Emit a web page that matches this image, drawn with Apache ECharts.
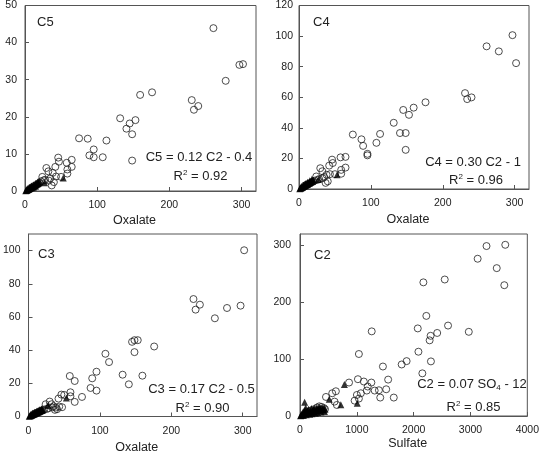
<!DOCTYPE html>
<html>
<head>
<meta charset="utf-8">
<script src="https://cdn.jsdelivr.net/npm/echarts@6/dist/echarts.min.js"></script>
<style>html,body{margin:0;padding:0;background:#fff;}#main{width:542px;height:455px;}</style>
</head>
<body>
<div id="main"></div>
<script>
// ---- Data ----
// Open circles: oxalate (C2) values shared by the C5, C4, C3 panels
var oxalateCircles = [261, 278, 297, 302, 231, 234, 240, 176, 159.5, 131.8, 153, 145, 140.5, 148.4, 148.4, 112.8, 107.7, 74.9, 86.9, 89.2, 95.2, 95.2, 64.7, 57.8, 64.7, 58.7, 58.7, 46, 47, 42, 29.6, 32.4, 38.4, 43, 50, 24, 40, 37, 33, 28, 22, 18, 15, 12, 10, 8, 20, 26, 35];
var c5Circles = [43.9, 29.7, 34.0, 34.2, 24.5, 21.9, 22.9, 26.6, 25.9, 19.6, 19.1, 18.2, 16.8, 15.3, 8.2, 13.6, 9.1, 14.2, 14.1, 9.6, 11.2, 9.1, 8.4, 7.6, 6.5, 5.8, 4.7, 9.0, 7.9, 6.5, 6.2, 5.3, 4.9, 3.9, 3.8, 3.8, 2.4, 1.5, 2.8, 3.0, 2.6, 2.0, 1.6, 1.3, 1.0, 0.8, 2.2, 2.9, 3.4];
var c4Circles = [93.3, 90, 100.6, 82.3, 62.7, 58.8, 59.9, 56.7, 53.2, 43.3, 48.5, 51.7, 36.6, 36.6, 25.6, 36, 30.2, 35.6, 32.5, 28.2, 23, 22, 21, 20.7, 14, 12.5, 10, 19.2, 17, 15.3, 13.6, 11.6, 9.3, 9.7, 9.7, 8.2, 5, 4, 7, 6.5, 5.5, 4.5, 3.8, 3.2, 2.6, 2.2, 5, 6, 7.8];
var c3Circles = [59.2, 65.4, 66.8, 100.2, 70.8, 64.4, 67.4, 42.2, 24.6, 25.2, 46, 45, 19.4, 46, 38.8, 32.8, 37.8, 11.8, 17.2, 23, 27, 15.6, 21.4, 24.4, 8.8, 14.6, 12.2, 13.2, 5.6, 10.8, 9, 7.4, 5.4, 6, 13, 7.4, 4.4, 4, 5.5, 5, 4.2, 3.5, 3, 2.4, 2, 1.6, 3.8, 4.6, 6.2];

// Filled triangles: oxalate values and C5, C4, C3
var oxalateTriangles = [1, 2, 3, 4, 5, 6, 7, 8, 9, 10, 11, 12, 13, 14, 15, 16, 17, 18, 19, 20, 27, 53, 2.5, 4.5, 6.5, 8.5, 11.5, 14.5, 3, 6, 9, 12, 15, 18];
var c5Triangles = [0.1, 0.2, 0.3, 0.4, 0.5, 0.6, 0.8, 0.9, 1.0, 1.1, 1.2, 1.3, 1.5, 1.6, 1.7, 1.8, 1.9, 2.0, 2.2, 2.5, 2.2, 3.5, 0.2, 0.4, 0.7, 0.9, 1.0, 1.3, 0.6, 0.9, 1.3, 1.6, 2.0, 2.4];
var c4Triangles = [0.2, 0.5, 0.8, 1.0, 1.3, 1.6, 1.9, 2.2, 2.5, 2.8, 3.0, 3.3, 3.6, 3.9, 4.2, 4.5, 4.8, 5.0, 5.3, 5.8, 6.2, 9.3, 0.6, 1.2, 1.8, 2.3, 3.1, 4.0, 1.5, 2.4, 3.4, 4.4, 5.4, 6.4];
var c3Triangles = [0.2, 0.4, 0.6, 0.8, 1.0, 1.2, 1.4, 1.6, 1.8, 2.0, 2.2, 2.4, 2.6, 2.8, 3.0, 3.2, 3.4, 3.6, 3.8, 4.0, 6.6, 11.2, 0.5, 0.9, 1.3, 1.7, 2.3, 2.9, 1.2, 1.9, 2.6, 3.3, 4.0, 4.6];

// C2 vs sulfate panel
var sulfateCircles = [3612, 3282, 3126, 3462, 3595, 2547, 2171, 2223, 2072, 2605, 2970, 2414, 2298, 2281, 2084, 2304, 2153, 1876, 1789, 1262, 1036, 1459, 1551, 1517, 1412, 1650, 1314, 1389, 1256, 1192, 1175, 1123, 1019, 863, 1001, 1071, 961, 1036, 567, 631, 608, 457, 648, 300, 340, 380, 420, 250, 200, 360, 440, 160, 280];
var c2Circles = [301, 298.8, 276.5, 260, 230, 240, 235, 176, 154, 159, 148, 146, 141, 133, 113, 96, 75, 96.5, 90.6, 148.8, 109, 87, 64, 47, 32.4, 32.4, 44.7, 45.3, 58.8, 51.8, 44.7, 60.6, 64.7, 58.8, 37, 40, 27, 30.6, 40, 43.5, 25.3, 33.5, 19.4, 15, 17, 16, 14, 12, 10, 11, 12, 8, 9];
var sulfateTriangles = [781, 515, 718, 1007, 81, 20, 40, 60, 80, 100, 120, 140, 160, 180, 200, 220, 240, 260, 280, 300, 320, 340, 360, 380, 400, 420, 440, 90, 100, 150, 50, 30, 70, 250, 200, 350, 300, 10, 130, 230, 330, 410, 60, 110, 170, 210, 270, 310, 370, 430];
var c2Triangles = [55.3, 29.4, 20, 22.4, 24, 1, 2, 3, 4, 5, 6, 5, 7, 8, 6, 9, 8, 10, 9, 11, 10, 12, 11, 13, 12, 14, 12, 10, 14, 12, 6, 3, 8, 13, 13, 15, 14, 0.5, 9, 11, 13, 10, 1, 2, 3, 4, 5, 6, 7, 8];

// Axis settings
var xMax = [320, 320, 320, 4000];
var yMax = [50, 120, 110, 320];
var xInterval = [100, 100, 100, 1000];
var yInterval = [10, 20, 20, 100];
var xNames = ['Oxalate', 'Oxalate', 'Oxalate', 'Sulfate'];
var panelLabels = ['C5', 'C4', 'C3', 'C2'];

function zip(xs, ys) { return xs.map(function (x, i) { return [x, ys[i]]; }); }

var FONT = '"Liberation Sans", Arial, Helvetica, sans-serif';
var AX = '#555';

var grids = [
  {left: 25, top: 5, width: 231, height: 186},
  {left: 299, top: 4, width: 230, height: 185},
  {left: 25, top: 234, width: 232, height: 184},
  {left: 300, top: 234, width: 231, height: 182}
];
grids.forEach(function (g) { g.show = true; g.borderColor = AX; g.borderWidth = 1; g.containLabel = false; });

var nameGaps = [23, 24, 24.5, 21];
var yMargins = [8, 6, 8, 9];
function plain(v) { return String(v); }

var xAxes = [], yAxes = [];
for (var i = 0; i < 4; i++) {
  xAxes.push({
    gridIndex: i, type: 'value', min: 0, max: xMax[i], interval: xInterval[i],
    name: xNames[i], nameLocation: 'middle', nameGap: nameGaps[i],
    nameTextStyle: {fontSize: 12.5, fontFamily: FONT, color: '#222', padding: [0, 12, 0, 0]},
    axisLine: {show: true, lineStyle: {color: AX, width: 1}},
    axisTick: {show: true, inside: true, length: 4, lineStyle: {color: AX}},
    axisLabel: {fontSize: 10.5, fontFamily: FONT, color: '#222', margin: 9, formatter: plain, showMaxLabel: xMax[i] % xInterval[i] === 0},
    splitLine: {show: false}
  });
  yAxes.push({
    gridIndex: i, type: 'value', min: 0, max: yMax[i], interval: yInterval[i],
    axisLine: {show: true, lineStyle: {color: AX, width: 1}},
    axisTick: {show: true, inside: true, length: 4, lineStyle: {color: AX}},
    axisLabel: {fontSize: 10.5, fontFamily: FONT, color: '#222', margin: yMargins[i], formatter: plain, showMaxLabel: yMax[i] % yInterval[i] === 0},
    splitLine: {show: false}
  });
}

var circleStyle = {color: 'rgba(255,255,255,0)', borderColor: '#222', borderWidth: 1};
var triStyle = {color: '#000'};

function circles(idx, data) {
  return {type: 'scatter', xAxisIndex: idx, yAxisIndex: idx, symbol: 'circle', symbolSize: 7, itemStyle: circleStyle, data: data, silent: true};
}
function tris(idx, data) {
  return {type: 'scatter', xAxisIndex: idx, yAxisIndex: idx, symbol: 'triangle', symbolSize: 7, itemStyle: triStyle, data: data, silent: true, z: 3};
}

var series = [
  circles(0, zip(oxalateCircles, c5Circles)), tris(0, zip(oxalateTriangles, c5Triangles)),
  circles(1, zip(oxalateCircles, c4Circles)), tris(1, zip(oxalateTriangles, c4Triangles)),
  circles(2, zip(oxalateCircles, c3Circles)), tris(2, zip(oxalateTriangles, c3Triangles)),
  circles(3, zip(sulfateCircles, c2Circles)), tris(3, zip(sulfateTriangles, c2Triangles))
];

var rich = {
  sup: {fontSize: 8, fontFamily: FONT, fill: '#222', color: '#222', verticalAlign: 'top', lineHeight: 15},
  sub: {fontSize: 8, fontFamily: FONT, fill: '#222', color: '#222', verticalAlign: 'bottom', lineHeight: 15},
  n: {fontSize: 13, fontFamily: FONT, fill: '#222', color: '#222', lineHeight: 15}
};
function txt(text, x, y, align) {
  return {type: 'text', x: x, y: y, silent: true,
    style: {text: text, fontSize: 13, fontFamily: FONT, fill: '#222', textAlign: align || 'center', textVerticalAlign: 'middle', rich: rich}};
}

var labelPos = [[37, 22], [313, 22], [38, 254], [314, 255]];
var graphics = [];
for (var k = 0; k < 4; k++) graphics.push(txt('{n|' + panelLabels[k] + '}', labelPos[k][0], labelPos[k][1], 'left'));
graphics.push(txt('{n|C5 = 0.12 C2 - 0.4}', 199, 157));
graphics.push(txt('{n|R}{sup|2}{n| = 0.92}', 200.5, 176));
graphics.push(txt('{n|C4 = 0.30 C2 - 1}', 473, 162));
graphics.push(txt('{n|R}{sup|2}{n| = 0.96}', 476, 180));
graphics.push(txt('{n|C3 = 0.17 C2 - 0.5}', 201.5, 389));
graphics.push(txt('{n|R}{sup|2}{n| = 0.90}', 202.5, 408));
graphics.push(txt('{n|C2 = 0.07 SO}{sub|4}{n| - 12}', 472, 384.5));
graphics.push(txt('{n|R}{sup|2}{n| = 0.85}', 473.5, 407.5));

var chart = echarts.init(document.getElementById('main'), null, {renderer: 'canvas'});
chart.setOption({
  animation: false,
  backgroundColor: '#fff',
  grid: grids,
  xAxis: xAxes,
  yAxis: yAxes,
  series: series,
  graphic: graphics
});
</script>
</body>
</html>
